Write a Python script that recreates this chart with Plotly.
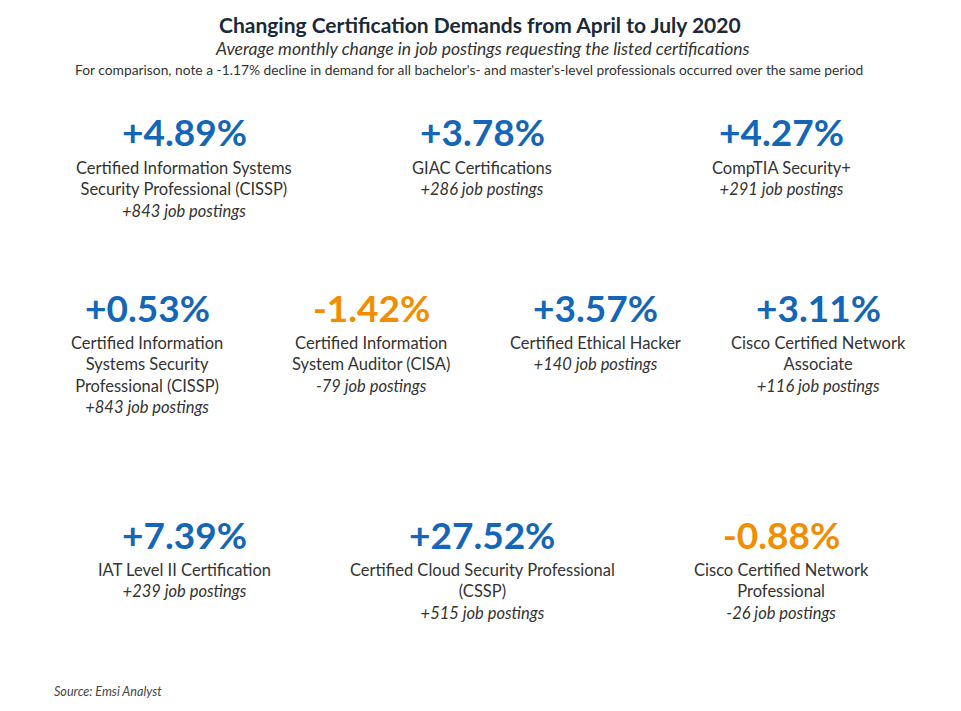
import plotly.graph_objects as go

changes = [4.89, 3.78, 4.27, 0.53, -1.42, 3.57, 3.11, 7.39, 27.52, -0.88]
names = [
    "Certified Information Systems<br>Security Professional (CISSP)",
    "GIAC Certifications",
    "CompTIA Security+",
    "Certified Information<br>Systems Security<br>Professional (CISSP)",
    "Certified Information<br>System Auditor (CISA)",
    "Certified Ethical Hacker",
    "Cisco Certified Network<br>Associate",
    "IAT Level II Certification",
    "Certified Cloud Security Professional<br>(CSSP)",
    "Cisco Certified Network<br>Professional",
]
postings = [843, 286, 291, 843, -79, 140, 116, 239, 515, -26]
rows = [0, 0, 0, 1, 1, 1, 1, 2, 2, 2]

W, H = 961, 711
OFF = 8
row_y = [132, 307, 534]
col_x = {3: [184, 482, 781], 4: [147, 371, 595, 818]}
BLUE, ORANGE = "#1466b8", "#f28c00"
FONT = "Lato"

fig = go.Figure()
ann = []
def add(x, y, text, size, color="#222", anchor="center", yanchor="middle"):
    ann.append(dict(x=(x - OFF) / W, y=1 - (y - OFF) / H, xref="paper", yref="paper", text=text,
                    showarrow=False, xanchor=anchor, yanchor=yanchor,
                    font=dict(family=FONT, size=size, color=color)))

counts = {r: rows.count(r) for r in set(rows)}
idx = {0: 0, 1: 0, 2: 0}
for v, n, p, r in zip(changes, names, postings, rows):
    x = col_x[counts[r]][idx[r]]
    idx[r] += 1
    y = row_y[r]
    color = BLUE if v >= 0 else ORANGE
    add(x, y, f"<b>{v:+.2f}%</b>", 37, color)
    text = n + f"<br><i>{p:+d} job postings</i>"
    add(x, y + 24, text, 16.5, "#333", yanchor="top")

add(480, 24, "<b>Changing Certification Demands from April to July 2020</b>", 21, "#1a2a3a")
add(482, 48, "<i>Average monthly change in job postings requesting the listed certifications</i>", 17.5, "#333")
add(469, 69, "For comparison, note a -1.17% decline in demand for all bachelor's- and master's-level professionals occurred over the same period", 13.8, "#333")
add(52, 691, "<i>Source: Emsi Analyst</i>", 12.6, "#444", anchor="left")

fig.update_layout(width=W, height=H, margin=dict(l=0, r=0, t=0, b=0),
                  paper_bgcolor="white", plot_bgcolor="white", annotations=ann,
                  xaxis=dict(visible=False), yaxis=dict(visible=False))
fig.write_html("out.html")
